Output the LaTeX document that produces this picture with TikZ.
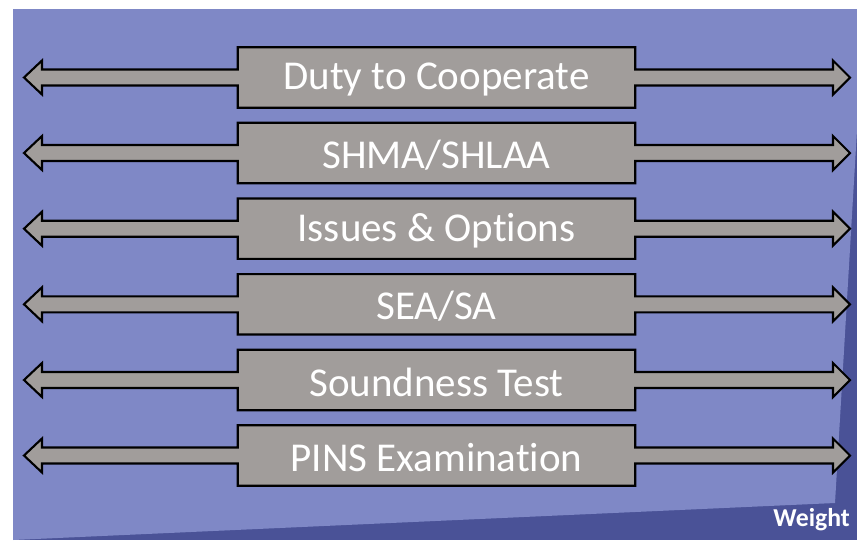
\documentclass[tikz,border=0pt]{standalone}
\usepackage{fontspec}
\setmainfont{Carlito}[Ligatures=NoCommon]
\usetikzlibrary{calc}
\definecolor{bglight}{HTML}{7F88C6}
\definecolor{bgdark}{HTML}{4A5297}
\definecolor{boxgray}{HTML}{A19D9B}
\tikzset{
  stage/.style={minimum width=397*0.03cm, minimum height=60*0.03cm, inner sep=0pt,
    text=white, font=\fontsize{35}{40}\selectfont},
  band/.style={fill=boxgray, draw=black, line width=1.8pt, line join=miter}
}
\begin{document}
\begin{tikzpicture}[x=0.03cm,y=-0.03cm]
      \useasboundingbox (0,0) rectangle (857,549);
      \fill[white] (0,0) rectangle (857,549);

      % background panel with darker wedge
      \fill[bgdark] (13,9) rectangle (857,540);
      \fill[bglight] (13,9) -- (857,9) -- (857,130) -- (835,503) -- (13,540) -- cycle;

      \foreach \y/\n/\t in {77.5/duty/{Duty to Cooperate},
                            153/shma/{SHMA/SHLAA},
                            228.7/issues/{Issues \& Options},
                            304.3/sea/{SEA/SA},
                            380/sound/{Soundness Test},
                            455.5/pins/{PINS Examination}} {
        \node[stage] (\n) at (436.5,\y) {};
        \coordinate (\n-l) at (24,\y);
        \coordinate (\n-r) at (850,\y);
        \draw[band] (\n.north west) -- (\n.north east)
          -- ($(\n.east)+(0,-8)$) -- ($(\n-r)+(-17,-8)$) -- ($(\n-r)+(-17,-17)$)
          -- (\n-r) -- ($(\n-r)+(-17,17)$) -- ($(\n-r)+(-17,8)$) -- ($(\n.east)+(0,8)$)
          -- (\n.south east) -- (\n.south west)
          -- ($(\n.west)+(0,8)$) -- ($(\n-l)+(18,8)$) -- ($(\n-l)+(18,17)$)
          -- (\n-l) -- ($(\n-l)+(18,-17)$) -- ($(\n-l)+(18,-8)$) -- ($(\n.west)+(0,-8)$)
          -- cycle;
        \node[stage] at ($(\n)+(0,2)$) {\t};
      }

      \node[text=white, font=\fontsize{22}{24}\selectfont\bfseries, anchor=south east]
        (weight) at (854,535) {Weight};
\end{tikzpicture}
\end{document}
